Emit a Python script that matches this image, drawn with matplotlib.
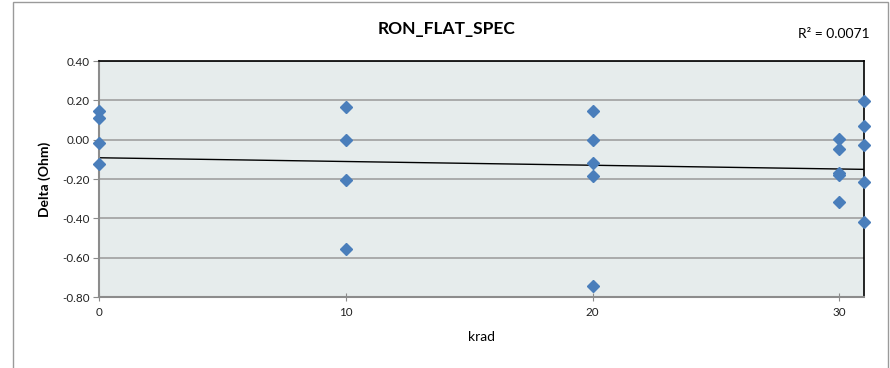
import numpy as np
import matplotlib
matplotlib.use('Agg')
from matplotlib import pyplot as plt
from matplotlib.patches import Rectangle

plt.rcParams['font.family'] = ['Lato', 'DejaVu Sans']

# data
krad = [0, 0, 0, 0,
        10, 10, 10, 10,
        20, 20, 20, 20, 20,
        30, 30, 30, 30, 30,
        31, 31, 31, 31, 31]
delta = [0.147, 0.110, -0.015, -0.125,
         0.166, -0.002, -0.206, -0.556,
         0.146, 0.000, -0.118, -0.183, -0.744,
         0.004, -0.049, -0.171, -0.179, -0.315,
         0.198, 0.070, -0.028, -0.215, -0.420]
# linear trendline as drawn in the chart (end points)
trend_x = [0, 31]
trend_y = [-0.092, -0.151]
title = 'RON_FLAT_SPEC'
r2_text = 'R² = 0.0071'
yticks = [-0.8, -0.6, -0.4, -0.2, 0.0, 0.2, 0.4]
xticks = [0, 10, 20, 30]

fig = plt.figure(figsize=(8.9, 3.68), dpi=100)
ax = fig.add_axes([99 / 890, 1 - 297 / 368, (864 - 99) / 890, (297 - 61) / 368])

# chart area border
fig.patches.append(Rectangle((13 / 890, -0.1), (888 - 13) / 890, 1.1 - 2 / 368,
                             transform=fig.transFigure, fill=False,
                             edgecolor='#9a9a9a', lw=1.0))

ax.set_facecolor('#e6ecec')
ax.set_xlim(0, 31)
ax.set_ylim(-0.8, 0.4)
ax.set_yticks(yticks)
ax.set_yticklabels(['%.2f' % v for v in yticks])
ax.set_xticks(xticks)
ax.yaxis.grid(True, color='#a0a0a0', lw=1.2)
ax.set_axisbelow(True)

ax.plot(trend_x, trend_y, color='black', lw=1.0, zorder=2)

ax.plot(krad, delta, 'D', color='#4a7ebb', ms=6.2, mec='#4a7ebb', zorder=3,
        clip_on=False)

for s in ['left', 'bottom']:
    ax.spines[s].set_color('#8c8c8c')
    ax.spines[s].set_linewidth(1.5)
for s in ['top', 'right']:
    ax.spines[s].set_color('black')
    ax.spines[s].set_linewidth(1.2)

ax.tick_params(axis='y', direction='out', length=4, color='#8c8c8c',
               labelsize=8.4, pad=3, labelcolor='#222222')
ax.tick_params(axis='x', direction='inout', length=6, color='#8c8c8c',
               labelsize=8.4, pad=4, labelcolor='#222222')

ax.set_ylabel('Delta (Ohm)', fontsize=10, fontweight='bold')
ax.yaxis.set_label_coords((45 - 99) / 765, 0.5)
ax.set_xlabel('krad', fontsize=10)
ax.xaxis.set_label_coords(0.5, (297 - 337) / 236)
ax.xaxis.label.set_va('center')
ax.yaxis.label.set_va('center')

fig.text(446 / 890, 1 - 29 / 368, title, ha='center', va='center',
         fontsize=12.5, fontweight='bold')
fig.text(870 / 890, 1 - 34 / 368, r2_text, ha='right', va='center',
         fontsize=10)

fig.savefig('out.png', dpi=100)
